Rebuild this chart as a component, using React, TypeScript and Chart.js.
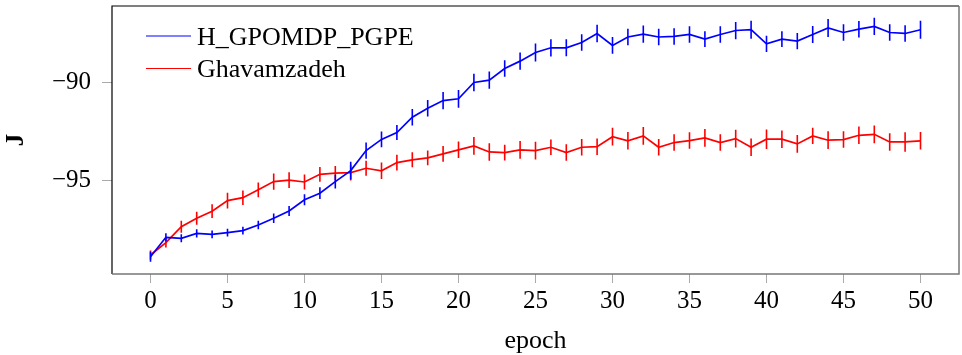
import React, { useEffect, useRef } from "react";
import { Chart, registerables } from "chart.js";

Chart.register(...registerables);

const SERIF = "'Liberation Serif', 'Times New Roman', serif";

const epochs = [
  0, 1, 2, 3, 4, 5, 6, 7, 8, 9, 10, 11, 12, 13, 14, 15, 16, 17, 18, 19, 20,
  21, 22, 23, 24, 25, 26, 27, 28, 29, 30, 31, 32, 33, 34, 35, 36, 37, 38, 39,
  40, 41, 42, 43, 44, 45, 46, 47, 48, 49, 50,
];

const gpomdpMean = [
  -98.88, -97.89, -97.94, -97.69, -97.74, -97.65, -97.55, -97.26, -96.92, -96.55,
  -95.98, -95.64, -95.05, -94.49, -93.47, -92.9, -92.55, -91.77, -91.31, -90.92,
  -90.83, -90.0, -89.88, -89.29, -88.91, -88.47, -88.23, -88.23, -87.96, -87.5,
  -88.11, -87.68, -87.53, -87.68, -87.65, -87.55, -87.79, -87.55, -87.35, -87.31,
  -88.03, -87.79, -87.89, -87.55, -87.22, -87.45, -87.28, -87.14, -87.45, -87.5,
  -87.31,
];

const gpomdpErr = [
  0.25, 0.21, 0.2, 0.21, 0.2, 0.2, 0.2, 0.22, 0.24, 0.26, 0.28, 0.3, 0.35, 0.45,
  0.41, 0.4, 0.38, 0.42, 0.42, 0.44, 0.45, 0.45, 0.44, 0.42, 0.44, 0.46, 0.44,
  0.43, 0.42, 0.45, 0.43, 0.42, 0.44, 0.42, 0.42, 0.42, 0.4, 0.42, 0.44, 0.46,
  0.42, 0.4, 0.42, 0.43, 0.46, 0.42, 0.42, 0.44, 0.42, 0.42, 0.46,
];

const ghavMean = [
  -98.79, -98.16, -97.35, -96.92, -96.56, -96.02, -95.87, -95.47, -95.05, -94.98,
  -95.07, -94.68, -94.62, -94.59, -94.37, -94.5, -94.08, -93.94, -93.84, -93.64,
  -93.43, -93.23, -93.54, -93.57, -93.43, -93.47, -93.3, -93.57, -93.3, -93.27,
  -92.76, -92.97, -92.72, -93.3, -93.06, -92.96, -92.82, -93.06, -92.86, -93.3,
  -92.89, -92.89, -93.13, -92.72, -92.94, -92.91, -92.69, -92.64, -93.03, -93.03,
  -92.97,
];

const ghavErr = [
  0.23, 0.25, 0.31, 0.33, 0.35, 0.4, 0.37, 0.38, 0.41, 0.4, 0.38, 0.38, 0.36,
  0.4, 0.38, 0.42, 0.4, 0.38, 0.38, 0.4, 0.42, 0.45, 0.45, 0.4, 0.45, 0.45, 0.4,
  0.42, 0.42, 0.42, 0.45, 0.45, 0.45, 0.42, 0.42, 0.42, 0.45, 0.42, 0.45, 0.45,
  0.5, 0.45, 0.45, 0.42, 0.45, 0.42, 0.45, 0.45, 0.45, 0.5, 0.45,
];

const seriesNames = ["H_GPOMDP_PGPE", "Ghavamzadeh"];
const seriesColors = ["#0000ff", "#ff0000"];

const xTickValues = [0, 5, 10, 15, 20, 25, 30, 35, 40, 45, 50];
const yTickValues = [-95, -90];

// vertical error bars, drawn right after each line so stacking follows the datasets
const errorBarPlugin = {
  id: "errorBars",
  afterDatasetDraw(chart: any, args: any) {
    const ds = chart.data.datasets[args.index];
    const errs: number[] = ds.errors;
    if (!errs) return;
    const xs = chart.scales.x;
    const ys = chart.scales.y;
    const ctx = chart.ctx;
    const area = chart.chartArea;
    ctx.save();
    ctx.beginPath();
    ctx.rect(area.left, area.top, area.right - area.left, area.bottom - area.top);
    ctx.clip();
    ctx.strokeStyle = ds.borderColor;
    ctx.lineWidth = 1.6;
    ctx.beginPath();
    ds.data.forEach((p: any, i: number) => {
      const px = xs.getPixelForValue(p.x);
      ctx.moveTo(px, ys.getPixelForValue(p.y - errs[i]));
      ctx.lineTo(px, ys.getPixelForValue(p.y + errs[i]));
    });
    ctx.stroke();
    ctx.restore();
  },
};

// axis frame around the plot area
const framePlugin = {
  id: "frame",
  afterDraw(chart: any) {
    const { ctx, chartArea: a } = chart;
    ctx.save();
    ctx.lineWidth = 1.2;
    ctx.strokeStyle = "#000";
    ctx.beginPath();
    ctx.moveTo(a.left, a.bottom);
    ctx.lineTo(a.left, a.top);
    ctx.lineTo(a.right, a.top);
    ctx.stroke();
    ctx.strokeStyle = "#777";
    ctx.lineWidth = 1.5;
    ctx.beginPath();
    ctx.moveTo(a.right, a.top);
    ctx.lineTo(a.right, a.bottom);
    ctx.lineTo(a.left, a.bottom);
    ctx.stroke();
    ctx.restore();
  },
};

// legend inside the upper-left corner of the plot, without a box
const insideLegendPlugin = {
  id: "insideLegend",
  afterDraw(chart: any) {
    const { ctx, chartArea: a } = chart;
    ctx.save();
    ctx.font = `26px ${SERIF}`;
    ctx.textBaseline = "alphabetic";
    ctx.textAlign = "left";
    chart.data.datasets.forEach((ds: any, i: number) => {
      const lineY = a.top + 30 + i * 32.5;
      ctx.strokeStyle = ds.borderColor;
      ctx.lineWidth = 1.2;
      ctx.beginPath();
      ctx.moveTo(a.left + 34, lineY);
      ctx.lineTo(a.left + 79, lineY);
      ctx.stroke();
      ctx.fillStyle = "#000";
      ctx.fillText(ds.label, a.left + 85, lineY + 8.5);
    });
    ctx.restore();
  },
};

const fmtMinus = (v: number) => (v < 0 ? "\u2212" + Math.abs(v) : String(v));

export default function App() {
  const canvasRef = useRef<HTMLCanvasElement | null>(null);

  useEffect(() => {
    const canvas = canvasRef.current;
    if (!canvas) return;
    const chart = new Chart(canvas, {
      type: "line",
      data: {
        datasets: [
          {
            label: seriesNames[0],
            data: epochs.map((e, i) => ({ x: e, y: gpomdpMean[i] })),
            errors: gpomdpErr,
            borderColor: seriesColors[0],
            backgroundColor: seriesColors[0],
            borderWidth: 1.7,
            pointRadius: 0,
            tension: 0,
          } as any,
          {
            label: seriesNames[1],
            data: epochs.map((e, i) => ({ x: e, y: ghavMean[i] })),
            errors: ghavErr,
            borderColor: seriesColors[1],
            backgroundColor: seriesColors[1],
            borderWidth: 1.7,
            pointRadius: 0,
            tension: 0,
          } as any,
        ],
      },
      options: {
        animation: false,
        responsive: false,
        events: [],
        layout: { padding: { top: 6, right: 3, bottom: 0, left: 0 } },
        plugins: {
          legend: { display: false },
          tooltip: { enabled: false },
        },
        scales: {
          x: {
            type: "linear",
            min: -2.5,
            max: 52.5,
            afterBuildTicks: (s: any) => {
              s.ticks = xTickValues.map((v) => ({ value: v }));
            },
            afterFit: (s: any) => {
              s.height = 81;
              s.paddingLeft = 0;
              s.paddingRight = 0;
            },
            border: { display: false },
            grid: {
              drawOnChartArea: false,
              drawTicks: true,
              tickLength: 9,
              color: "#aaa",
              lineWidth: 1,
            },
            ticks: {
              color: "#000",
              padding: 3,
              maxRotation: 0,
              autoSkip: false,
              font: { family: SERIF, size: 25 },
            },
            title: {
              display: true,
              text: "epoch",
              color: "#000",
              padding: { top: 0, bottom: -2 },
              font: { family: SERIF, size: 26 },
            },
          },
          y: {
            type: "linear",
            min: -99.76,
            max: -86.1,
            afterBuildTicks: (s: any) => {
              s.ticks = yTickValues.map((v) => ({ value: v }));
            },
            afterFit: (s: any) => {
              s.width = 112;
              s.paddingTop = 0;
              s.paddingBottom = 0;
            },
            border: { display: false },
            grid: {
              drawOnChartArea: false,
              drawTicks: true,
              tickLength: 10,
              color: "#aaa",
              lineWidth: 1,
            },
            ticks: {
              color: "#000",
              padding: 11,
              autoSkip: false,
              font: { family: SERIF, size: 25 },
              callback: (v: any) => fmtMinus(Number(v)),
            },
            title: {
              display: true,
              text: "J",
              color: "#000",
              padding: { top: 2, bottom: 0 },
              font: { family: SERIF, size: 25, weight: "bold" },
            },
          },
        },
      } as any,
      plugins: [errorBarPlugin, framePlugin, insideLegendPlugin],
    });
    return () => chart.destroy();
  }, []);

  return (
    <div style={{ position: "fixed", left: 0, top: 0, width: 962, height: 355, background: "#fff" }}>
      <canvas ref={canvasRef} width={962} height={355} style={{ display: "block" }} />
    </div>
  );
}
